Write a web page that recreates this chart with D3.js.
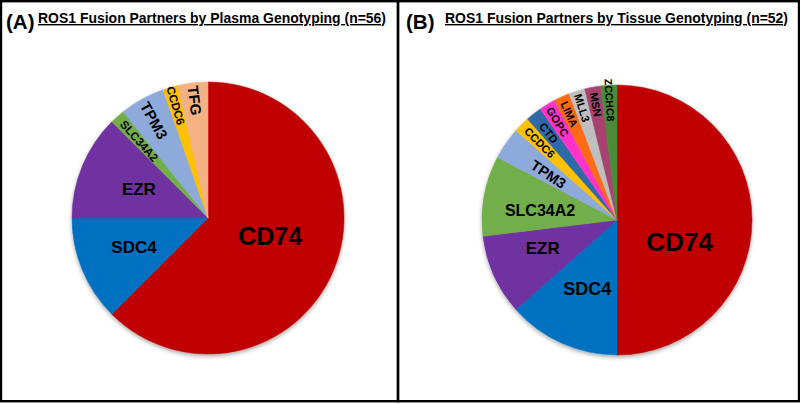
<!DOCTYPE html>
<html><head><meta charset="utf-8">
<script src="https://cdn.jsdelivr.net/npm/d3@7"></script>
<style>body{margin:0;background:#fff}svg{display:block;font-family:"Liberation Sans",Arial,sans-serif}</style>
</head><body><svg id="c" width="800" height="404"></svg>
<script>
// Panel A: plasma genotyping (n=56)
const plasmaGenes  = ["CD74","SDC4","EZR","SLC34A2","TPM3","CCDC6","TFG"];
const plasmaCounts = [35, 7, 7, 1, 3, 1, 2];
// Panel B: tissue genotyping (n=52)
const tissueGenes  = ["CD74","SDC4","EZR","SLC34A2","TPM3","CCDC6","CTD","GOPC","LIMA","MLL3","MSN","ZCCHC8"];
const tissueCounts = [26, 7, 5, 5, 2, 1, 1, 1, 1, 1, 1, 1];
const panelTitles = ["ROS1 Fusion Partners by Plasma Genotyping (n=56)", "ROS1 Fusion Partners by Tissue Genotyping (n=52)"];
const panelTags = ["(A)", "(B)"];

const colors = {CD74:"#C00000",SDC4:"#0070C0",EZR:"#7030A0",SLC34A2:"#72AE4A",TPM3:"#8EAADB",
  CCDC6:"#FFC000",TFG:"#F4B183",CTD:"#2F6AA6",GOPC:"#FF33CC",LIMA:"#FF6A13",MLL3:"#BFBFBF",MSN:"#A8436F",ZCCHC8:"#4E8A38"};

// label placement: f = radius fraction, da = angle shift (deg), rot = radial rotation, fs = font size
const placeA = {CD74:{f:.475,da:-6.5,fs:25},SDC4:{f:.585,da:1,fs:17},EZR:{f:.55,da:0,fs:17},
  SLC34A2:{f:.76,da:0,rot:1,fs:11.5},TPM3:{f:.82,da:0,rot:1,fs:15},CCDC6:{f:.86,da:0,rot:1,fs:11.5},TFG:{f:.87,da:0,rot:1,fs:15}};
const placeB = {CD74:{f:.49,da:19,fs:26},SDC4:{f:.56,da:-1,fs:18},EZR:{f:.59,da:3,fs:17},SLC34A2:{f:.575,da:-3,fs:16},
  TPM3:{f:.61,da:-1,rot:1,fs:14.5},CCDC6:{f:.81,da:0,rot:1,fs:11},CTD:{f:.82,da:0,rot:1,fs:11},GOPC:{f:.85,da:0,rot:1,fs:11},
  LIMA:{f:.86,da:0,rot:1,fs:11},MLL3:{f:.87,da:0,rot:1,fs:11},MSN:{f:.87,da:0,rot:1,fs:11},ZCCHC8:{f:.89,da:0,rot:1,fs:10.5}};

const svg = d3.select("#c");
const defs = svg.append("defs");
const flt = defs.append("filter").attr("id","sh").attr("x","-20%").attr("y","-20%").attr("width","140%").attr("height","140%");
flt.append("feGaussianBlur").attr("in","SourceAlpha").attr("stdDeviation",2);
flt.append("feOffset").attr("dx",0).attr("dy",2).attr("result","b");
flt.append("feComponentTransfer").append("feFuncA").attr("type","linear").attr("slope",0.35);
const mg = flt.append("feMerge"); mg.append("feMergeNode"); mg.append("feMergeNode").attr("in","SourceGraphic");

const panels = [
  {genes:plasmaGenes,counts:plasmaCounts,cx:208,cy:218,r:136,place:placeA,x0:1,x1:398,tagX:6,titleX:38,titleW:348},
  {genes:tissueGenes,counts:tissueCounts,cx:617,cy:220,r:135,place:placeB,x0:398,x1:799,tagX:406,titleX:445,titleW:343}
];

panels.forEach((p,i)=>{
  svg.append("rect").attr("x",p.x0).attr("y",1.2).attr("width",p.x1-p.x0).attr("height",400)
    .attr("fill","none").attr("stroke","#000").attr("stroke-width",2.4);
  svg.append("text").attr("x",p.tagX).attr("y",29).attr("font-size",20.5).attr("font-weight","bold").text(panelTags[i]);
  svg.append("text").attr("x",p.titleX).attr("y",23).attr("font-size",14).attr("font-weight","bold")
    .attr("text-decoration","underline").attr("textLength",p.titleW).attr("lengthAdjust","spacingAndGlyphs").text(panelTitles[i]);

  const data = p.genes.map((g,k)=>({gene:g,value:p.counts[k]}));
  const pie = d3.pie().value(d=>d.value).sort(null);
  const arcs = pie(data);
  const arc = d3.arc().innerRadius(0).outerRadius(p.r);
  const g = svg.append("g").attr("transform",`translate(${p.cx},${p.cy})`);
  const sl = g.append("g").attr("filter","url(#sh)");
  sl.selectAll("path").data(arcs).join("path").attr("d",arc).attr("fill",d=>colors[d.data.gene])
    .attr("stroke",d=>colors[d.data.gene]).attr("stroke-width",0.5);
  g.selectAll("text").data(arcs).join("text").each(function(d){
    const pl = p.place[d.data.gene];
    const mid = (d.startAngle+d.endAngle)/2 + pl.da*Math.PI/180;
    const rr = pl.f*p.r;
    const x = rr*Math.sin(mid), y = -rr*Math.cos(mid);
    let rot = 0;
    if(pl.rot){ rot = ((mid*180/Math.PI)+90)%360; }
    d3.select(this).attr("transform",`translate(${x},${y}) rotate(${rot})`)
      .attr("text-anchor","middle").attr("dominant-baseline","central")
      .attr("font-weight","bold").attr("font-size",pl.fs).attr("fill","#000").text(d.data.gene);
  });
});
</script></body></html>
